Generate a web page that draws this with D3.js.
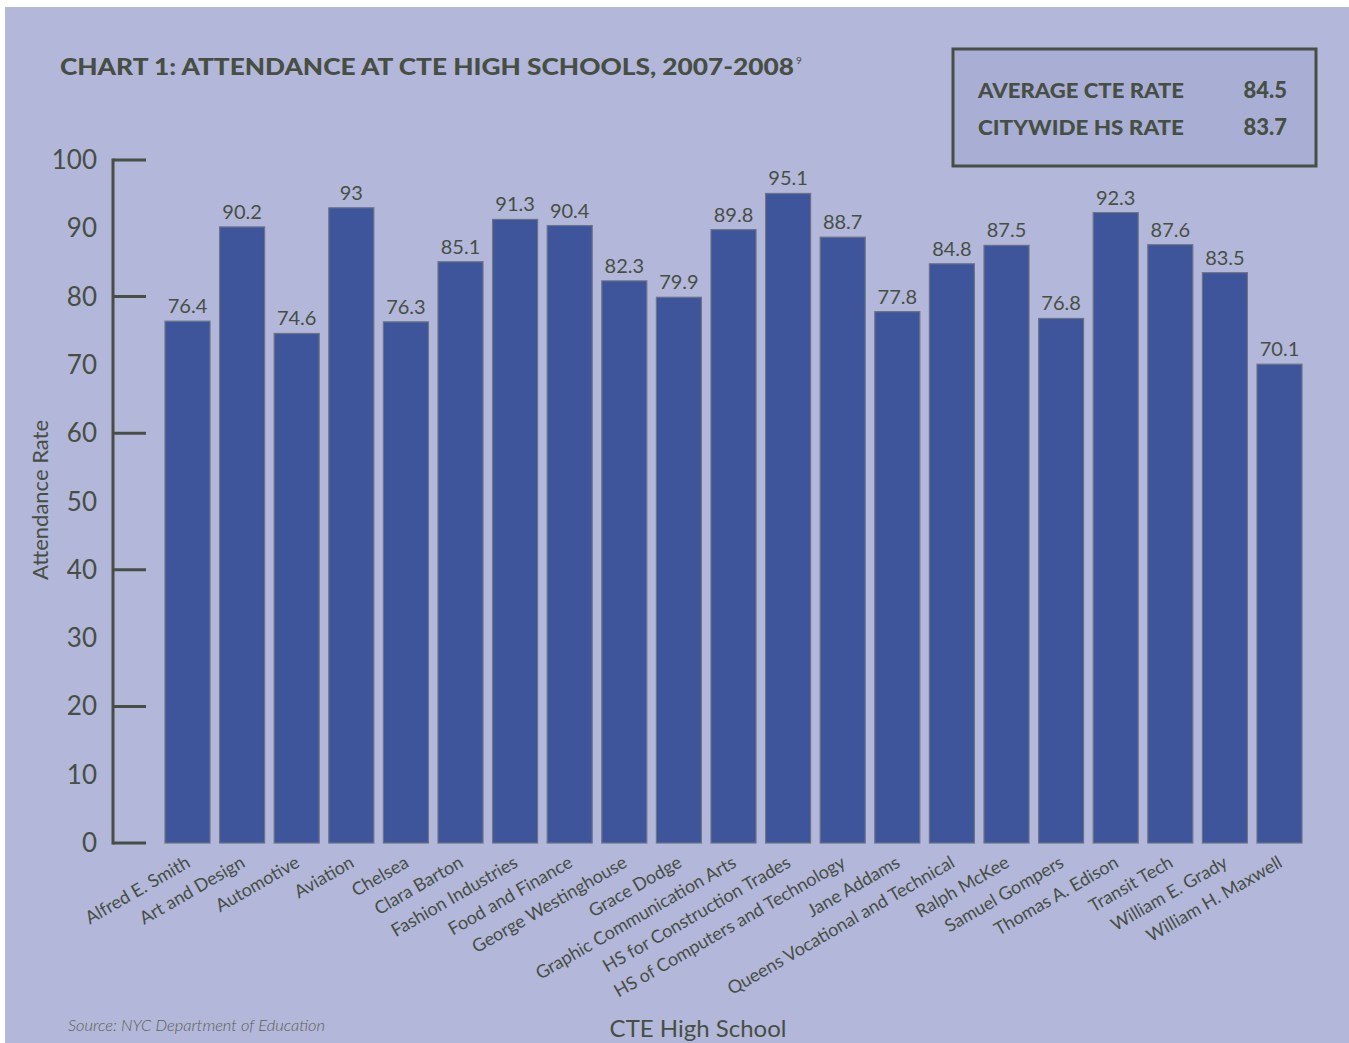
<!DOCTYPE html>
<html><head><meta charset="utf-8">
<script src="https://cdn.jsdelivr.net/npm/d3@7"></script>
<style>
html,body{margin:0;padding:0;background:#fff;}
svg{display:block;}
</style></head>
<body>
<script>
const schools = ["Alfred E. Smith","Art and Design","Automotive","Aviation","Chelsea","Clara Barton","Fashion Industries","Food and Finance","George Westinghouse","Grace Dodge","Graphic Communication Arts","HS for Construction Trades","HS of Computers and Technology","Jane Addams","Queens Vocational and Technical","Ralph McKee","Samuel Gompers","Thomas A. Edison","Transit Tech","William E. Grady","William H. Maxwell"];
const attendance = [76.4,90.2,74.6,93,76.3,85.1,91.3,90.4,82.3,79.9,89.8,95.1,88.7,77.8,84.8,87.5,76.8,92.3,87.6,83.5,70.1];
const yTickLabels = [0,10,20,30,40,50,60,70,80,90,100];
const yTickLines = [0,20,40,60,80,100];
const summaryLabels = ["AVERAGE CTE RATE","CITYWIDE HS RATE"];
const summaryValues = ["84.5","83.7"];

const W=1349,H=1043;
const ink="#474f45";
const svg=d3.select("body").append("svg").attr("width",W).attr("height",H);
svg.append("rect").attr("x",5).attr("y",7).attr("width",W-5).attr("height",H-7).attr("fill","#b3b7d9");

const font="Lato, 'Open Sans', sans-serif";

// title
svg.append("text").attr("x",60).attr("y",75).attr("fill",ink)
  .attr("font-family",font).attr("font-weight",900).attr("font-size",23)
  .attr("textLength",734).attr("lengthAdjust","spacingAndGlyphs")
  .text("CHART 1: ATTENDANCE AT CTE HIGH SCHOOLS, 2007-2008");
svg.append("text").attr("x",796).attr("y",64).attr("fill",ink).attr("font-family",font)
  .attr("font-size",10).text("9");

// summary box
svg.append("rect").attr("x",953).attr("y",49).attr("width",363).attr("height",117)
  .attr("fill","#a9aed4").attr("stroke",ink).attr("stroke-width",3);
summaryLabels.forEach((s,i)=>{
  svg.append("text").attr("x",978).attr("y",98+i*37).attr("fill",ink).attr("font-family",font)
    .attr("font-weight",900).attr("font-size",21).attr("textLength",206).attr("lengthAdjust","spacingAndGlyphs").text(s);
  svg.append("text").attr("x",1287).attr("y",98+i*37).attr("text-anchor","end").attr("fill",ink).attr("font-family",font)
    .attr("font-weight",900).attr("font-size",22).text(summaryValues[i]);
});

const y=d3.scaleLinear().domain([0,100]).range([843,160]);
const x=d3.scaleBand().domain(schools).range([160.2,1306.8]).paddingInner(0.176).paddingOuter(0.088);

// y axis
const ax=svg.append("g");
ax.append("line").attr("x1",113).attr("x2",113).attr("y1",y(0)+1.5).attr("y2",y(100)-1.5).attr("stroke",ink).attr("stroke-width",3);
ax.selectAll(".tl").data(yTickLines).enter().append("line")
  .attr("x1",113).attr("x2",146).attr("y1",d=>y(d)).attr("y2",d=>y(d)).attr("stroke",ink).attr("stroke-width",3);
ax.selectAll(".tt").data(yTickLabels).enter().append("text")
  .attr("x",97).attr("y",d=>y(d)+9).attr("text-anchor","end").attr("fill",ink)
  .attr("font-family",font).attr("font-size",26).text(d=>d);
svg.append("text").attr("transform","translate(48,500) rotate(-90)").attr("text-anchor","middle")
  .attr("fill",ink).attr("font-family",font).attr("font-size",22).text("Attendance Rate");

// bars
svg.selectAll(".bar").data(attendance).enter().append("rect")
  .attr("x",(d,i)=>x(schools[i])).attr("width",x.bandwidth())
  .attr("y",d=>y(d)).attr("height",d=>y(0)-y(d))
  .attr("fill","#3e559b").attr("stroke","#6b7385").attr("stroke-width",1.2);
svg.selectAll(".val").data(attendance).enter().append("text")
  .attr("x",(d,i)=>x(schools[i])+x.bandwidth()/2).attr("y",d=>y(d)-8)
  .attr("text-anchor","middle").attr("fill",ink).attr("font-family",font).attr("font-size",20)
  .text(d=>String(d));

// x labels
svg.selectAll(".xl").data(schools).enter().append("text")
  .attr("transform",d=>`translate(${x(d)+x.bandwidth()/2+4},${866}) rotate(-30)`)
  .attr("text-anchor","end").attr("fill",ink).attr("font-family",font).attr("font-size",18).text(d=>d);

svg.append("text").attr("x",698).attr("y",1037).attr("text-anchor","middle").attr("fill",ink)
  .attr("font-family",font).attr("font-size",24).text("CTE High School");
svg.append("text").attr("x",68).attr("y",1031).attr("fill","#5a6157").attr("font-family",font)
  .attr("font-style","italic").attr("font-weight",300).attr("font-size",15.5)
  .attr("textLength",257).attr("lengthAdjust","spacingAndGlyphs").text("Source: NYC Department of Education");
</script>
</body></html>
